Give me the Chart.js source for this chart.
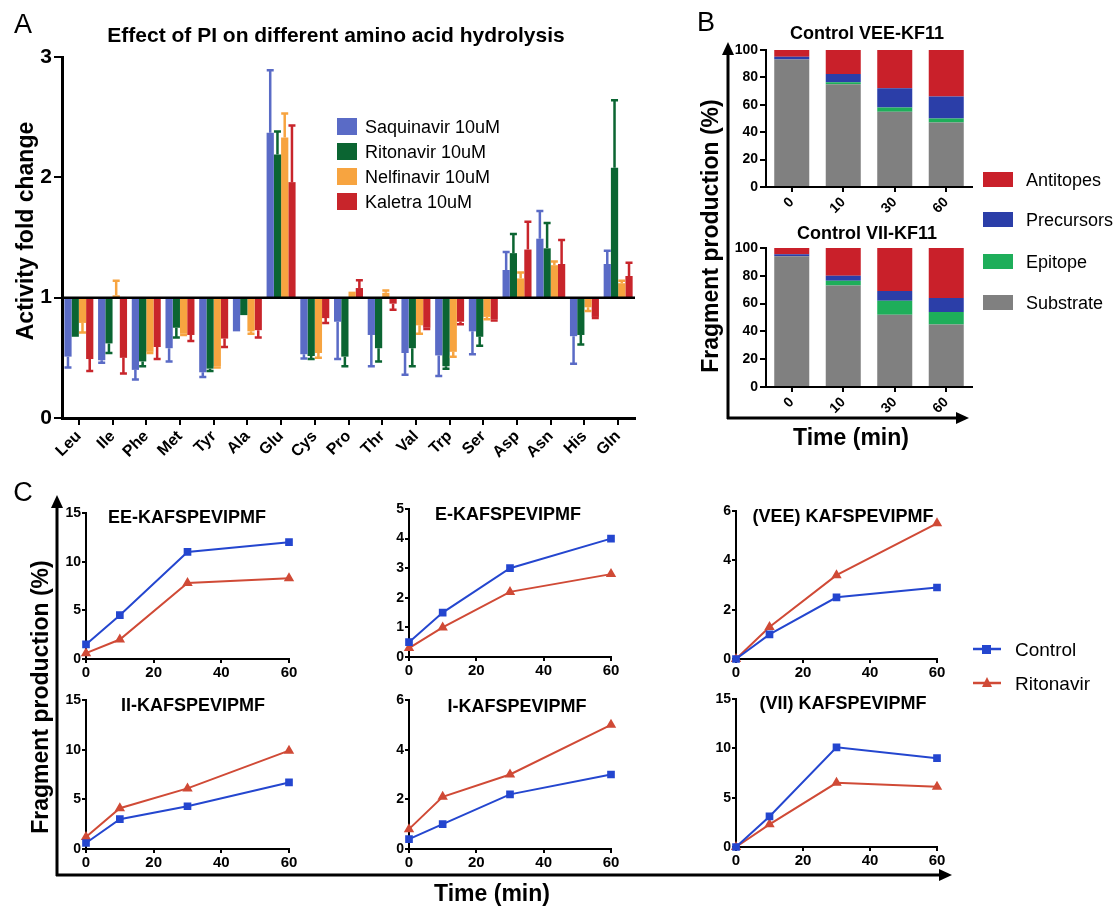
<!DOCTYPE html>
<html lang="en">
<head>
<meta charset="UTF-8" />
<title>Protease inhibitors and fragment production</title>
<script src="https://cdn.jsdelivr.net/npm/chart.js"></script>
<style>
  html, body { margin: 0; padding: 0; background: #fff; }
  body { width: 1117px; height: 906px; position: relative; overflow: hidden;
         font-family: Arial, "Liberation Sans", Helvetica, sans-serif; color: #000; }
  canvas { position: absolute; }
  .t { position: absolute; white-space: nowrap; line-height: 1; transform: translate(-50%, -50%); }
  .l { position: absolute; white-space: nowrap; line-height: 1; transform: translateY(-50%); }
  .b { font-weight: bold; }
  .v { transform: translate(-50%, -50%) rotate(-90deg); }
  .sw { position: absolute; }
</style>
</head>
<body>
<canvas id="deco" width="1117" height="906" style="left:0;top:0"></canvas>
<canvas id="chartA"></canvas>
<canvas id="chartB1"></canvas>
<canvas id="chartB2"></canvas>
<canvas id="c11"></canvas>
<canvas id="c12"></canvas>
<canvas id="c13"></canvas>
<canvas id="c21"></canvas>
<canvas id="c22"></canvas>
<canvas id="c23"></canvas>

<!-- panel letters -->
<div class="t" style="left:23px;top:24px;font-size:27px">A</div>
<div class="t" style="left:706px;top:22px;font-size:27px">B</div>
<div class="t" style="left:23px;top:492px;font-size:27px">C</div>

<!-- panel A texts -->
<div class="t b" style="left:336px;top:34px;font-size:21px">Effect of PI on different amino acid hydrolysis</div>
<div class="t b v" style="left:25px;top:231px;font-size:23px">Activity fold change</div>
<div class="sw" style="left:337px;top:118px;width:20px;height:17px;background:#5a6bc6"></div>
<div class="sw" style="left:337px;top:143px;width:20px;height:17px;background:#0b6532"></div>
<div class="sw" style="left:337px;top:168px;width:20px;height:17px;background:#f7a440"></div>
<div class="sw" style="left:337px;top:193px;width:20px;height:17px;background:#c8252b"></div>
<div class="l" style="left:365px;top:127px;font-size:18px">Saquinavir 10uM</div>
<div class="l" style="left:365px;top:152px;font-size:18px">Ritonavir 10uM</div>
<div class="l" style="left:365px;top:177px;font-size:18px">Nelfinavir 10uM</div>
<div class="l" style="left:365px;top:202px;font-size:18px">Kaletra 10uM</div>

<!-- panel B texts -->
<div class="t b" style="left:867px;top:33px;font-size:18px">Control VEE-KF11</div>
<div class="t b" style="left:867px;top:233px;font-size:18px">Control VII-KF11</div>
<div class="t b v" style="left:710px;top:236px;font-size:23px">Fragment production (%)</div>
<div class="t b" style="left:851px;top:437px;font-size:23px">Time (min)</div>
<div class="sw" style="left:983px;top:172px;width:30px;height:15px;background:#c9202a"></div>
<div class="sw" style="left:983px;top:212px;width:30px;height:15px;background:#2b3ea8"></div>
<div class="sw" style="left:983px;top:254px;width:30px;height:15px;background:#1eae5a"></div>
<div class="sw" style="left:983px;top:295px;width:30px;height:15px;background:#808080"></div>
<div class="l" style="left:1026px;top:180px;font-size:18px">Antitopes</div>
<div class="l" style="left:1026px;top:220px;font-size:18px">Precursors</div>
<div class="l" style="left:1026px;top:262px;font-size:18px">Epitope</div>
<div class="l" style="left:1026px;top:303px;font-size:18px">Substrate</div>

<!-- panel C texts -->
<div class="t b" style="left:187px;top:517px;font-size:18px">EE-KAFSPEVIPMF</div>
<div class="t b" style="left:508px;top:514px;font-size:18px">E-KAFSPEVIPMF</div>
<div class="t b" style="left:843px;top:516px;font-size:18px">(VEE) KAFSPEVIPMF</div>
<div class="t b" style="left:193px;top:705px;font-size:18px">II-KAFSPEVIPMF</div>
<div class="t b" style="left:517px;top:706px;font-size:18px">I-KAFSPEVIPMF</div>
<div class="t b" style="left:843px;top:703px;font-size:18px">(VII) KAFSPEVIPMF</div>
<div class="t b v" style="left:40px;top:697px;font-size:23px">Fragment production (%)</div>
<div class="t b" style="left:492px;top:893px;font-size:23px">Time (min)</div>
<div class="l" style="left:1015px;top:649px;font-size:19px">Control</div>
<div class="l" style="left:1015px;top:683px;font-size:19px">Ritonavir</div>

<script>
var FONT = 'Arial, "Liberation Sans", Helvetica, sans-serif';

// ---- panel A: fold change per amino acid ----
var aminoAcids = ["Leu", "Ile", "Phe", "Met", "Tyr", "Ala", "Glu", "Cys", "Pro",
                  "Thr", "Val", "Trp", "Ser", "Asp", "Asn", "His", "Gln"];
var saquinavir    = [0.51, 0.48, 0.40, 0.58, 0.38, 0.72, 2.37, 0.53, 0.80, 0.69, 0.54, 0.52, 0.72, 1.23, 1.49, 0.68, 1.28];
var saquinavirErr = [0.09, 0.02, 0.08, 0.11, 0.04, 0.00, 0.52, 0.035, 0.31, 0.26, 0.18, 0.17, 0.19, 0.15, 0.23, 0.23, 0.11];
var ritonavir     = [0.675, 0.62, 0.47, 0.75, 0.41, 0.855, 2.19, 0.515, 0.51, 0.58, 0.58, 0.43, 0.675, 1.37, 1.41, 0.69, 2.08];
var ritonavirErr  = [0.00, 0.08, 0.04, 0.08, 0.02, 0.00, 0.19, 0.025, 0.08, 0.11, 0.15, 0.02, 0.075, 0.16, 0.21, 0.08, 0.56];
var nelfinavir    = [0.79, 1.02, 0.55, 0.70, 0.43, 0.72, 2.33, 0.54, 1.05, 1.04, 0.77, 0.55, 0.84, 1.16, 1.27, 0.92, 1.12];
var nelfinavirErr = [0.08, 0.12, 0.01, 0.01, 0.01, 0.02, 0.20, 0.04, 0.00, 0.02, 0.07, 0.04, 0.02, 0.05, 0.03, 0.03, 0.02];
var kaletra       = [0.49, 0.50, 0.59, 0.69, 0.66, 0.73, 1.96, 0.83, 1.08, 0.95, 0.75, 0.80, 0.82, 1.40, 1.28, 0.84, 1.18];
var kaletraErr    = [0.10, 0.13, 0.10, 0.05, 0.07, 0.06, 0.47, 0.04, 0.065, 0.05, 0.01, 0.02, 0.01, 0.23, 0.20, 0.01, 0.11];
var foldTicks = [0, 1, 2, 3];

// ---- panel B: stacked fragment production ----
var timeLabels = ["0", "10", "30", "60"];
var veeSubstrate  = [93, 75, 55, 47];
var veeEpitope    = [0, 1.5, 3, 3];
var veePrecursors = [2, 6, 14, 16];
var veeAntitopes  = [5, 17.5, 28, 34];
var viiSubstrate  = [94, 73, 52, 45];
var viiEpitope    = [0, 3.5, 10, 9];
var viiPrecursors = [1.5, 3.5, 7, 10];
var viiAntitopes  = [4.5, 20, 31, 36];

// ---- panel C: time courses ----
var minutes = [0, 10, 30, 60];
var eeControl   = [1.5, 4.5, 11, 12];   var eeRitonavir  = [0.6, 2, 7.8, 8.3];
var eControl    = [0.5, 1.5, 3, 4];     var eRitonavir   = [0.3, 1, 2.2, 2.8];
var veeControl  = [0, 1, 2.5, 2.9];     var veeRitonavir = [0, 1.3, 3.4, 5.5];
var iiControl   = [0.6, 3, 4.3, 6.7];   var iiRitonavir  = [1.2, 4.1, 6.1, 9.9];
var iControl    = [0.4, 1, 2.2, 3];     var iRitonavir   = [0.8, 2.1, 3, 5];
var viiControl  = [0, 3.1, 10.1, 9];    var viiRitonavir = [0, 2.3, 6.5, 6.1];

// place a canvas so that its plot area lands on [left, top, right, bottom]
function place(id, area, m) {
  var el = document.getElementById(id);
  var w = area[2] - area[0] + m[1] + m[3];
  var h = area[3] - area[1] + m[0] + m[2];
  el.width = w; el.height = h;
  el.style.left = (area[0] - m[3]) + "px";
  el.style.top = (area[1] - m[0]) + "px";
  el.style.width = w + "px"; el.style.height = h + "px";
  return el;
}
function fitX(size) { return function (s) { s.height = size; s.paddingLeft = 0; s.paddingRight = 0; }; }
function fitY(size) { return function (s) { s.width = size; s.paddingTop = 0; s.paddingBottom = 0; }; }

function axisBase(fontSize, tickLen, bw) {
  return {
    border: { display: true, color: "#000", width: bw },
    grid: { display: true, drawOnChartArea: false, drawTicks: true, tickLength: tickLen, color: "#000", lineWidth: 2 },
    ticks: { color: "#000", font: { family: FONT, weight: "bold", size: fontSize }, padding: 2 }
  };
}

// error bars drawn away from the baseline of 1
var errorBars = {
  id: "errorBars",
  afterDatasetsDraw: function (chart) {
    var ctx = chart.ctx, y = chart.scales.y;
    chart.data.datasets.forEach(function (ds, i) {
      var meta = chart.getDatasetMeta(i);
      meta.data.forEach(function (bar, j) {
        var v = ds.data[j][1], e = ds.err[j];
        if (!e) return;
        var from = y.getPixelForValue(v);
        var tip = y.getPixelForValue(v > 1 ? v + e : v - e);
        ctx.save();
        ctx.strokeStyle = ds.backgroundColor;
        ctx.lineWidth = 2.5;
        ctx.beginPath();
        ctx.moveTo(bar.x, from); ctx.lineTo(bar.x, tip);
        ctx.moveTo(bar.x - 3.5, tip); ctx.lineTo(bar.x + 3.5, tip);
        ctx.stroke();
        ctx.restore();
      });
    });
  }
};
var baseline = {
  id: "baseline",
  afterDatasetsDraw: function (chart) {
    var ctx = chart.ctx, a = chart.chartArea, yy = chart.scales.y.getPixelForValue(1);
    ctx.save();
    ctx.strokeStyle = "#000"; ctx.lineWidth = 2.5;
    ctx.beginPath(); ctx.moveTo(a.left, yy); ctx.lineTo(a.right, yy); ctx.stroke();
    ctx.restore();
  }
};

function floating(vals) { return vals.map(function (v) { return [1, v]; }); }

var xA = axisBase(16, 7, 3);
xA.offset = true;
xA.grid.offset = false;
xA.ticks.minRotation = 45; xA.ticks.maxRotation = 45; xA.ticks.autoSkip = false;
xA.afterFit = fitX(55);
var yA = axisBase(21, 8, 3);
yA.min = 0; yA.max = 3;
yA.ticks.stepSize = 1;
yA.ticks.callback = function (v) { return foldTicks.indexOf(v) >= 0 ? String(v) : ""; };
yA.afterFit = fitY(45);

new Chart(place("chartA", [62, 57, 635, 418], [12, 20, 55, 45]), {
  type: "bar",
  data: {
    labels: aminoAcids,
    datasets: [
      { label: "Saquinavir 10uM", data: floating(saquinavir), err: saquinavirErr, backgroundColor: "#5a6bc6" },
      { label: "Ritonavir 10uM", data: floating(ritonavir), err: ritonavirErr, backgroundColor: "#0b6532" },
      { label: "Nelfinavir 10uM", data: floating(nelfinavir), err: nelfinavirErr, backgroundColor: "#f7a440" },
      { label: "Kaletra 10uM", data: floating(kaletra), err: kaletraErr, backgroundColor: "#c8252b" }
    ]
  },
  options: {
    responsive: false, animation: false, devicePixelRatio: 1,
    layout: { padding: { top: 12, right: 20, bottom: 0, left: 0 } },
    plugins: { legend: { display: false }, tooltip: { enabled: false } },
    datasets: { bar: { categoryPercentage: 0.86, barPercentage: 1, borderWidth: 0, borderSkipped: false } },
    scales: { x: xA, y: yA }
  },
  plugins: [errorBars, baseline]
});

function stackedChart(id, area, sub, epi, pre, anti) {
  var x = axisBase(14, 5, 2);
  x.stacked = true; x.offset = true; x.grid.offset = false;
  x.ticks.minRotation = 45; x.ticks.maxRotation = 45;
  x.afterFit = fitX(32);
  var y = axisBase(14, 6, 2);
  y.stacked = true; y.min = 0; y.max = 100; y.ticks.stepSize = 20;
  y.afterFit = fitY(38);
  return new Chart(place(id, area, [8, 12, 32, 38]), {
    type: "bar",
    data: {
      labels: timeLabels,
      datasets: [
        { label: "Substrate", data: sub, backgroundColor: "#808080" },
        { label: "Epitope", data: epi, backgroundColor: "#1eae5a" },
        { label: "Precursors", data: pre, backgroundColor: "#2b3ea8" },
        { label: "Antitopes", data: anti, backgroundColor: "#c9202a" }
      ]
    },
    options: {
      responsive: false, animation: false, devicePixelRatio: 1,
      layout: { padding: { top: 8, right: 12, bottom: 0, left: 0 } },
      plugins: { legend: { display: false }, tooltip: { enabled: false } },
      datasets: { bar: { categoryPercentage: 0.68, barPercentage: 1, borderWidth: 0 } },
      scales: { x: x, y: y }
    }
  });
}
stackedChart("chartB1", [766, 50, 972, 187], veeSubstrate, veeEpitope, veePrecursors, veeAntitopes);
stackedChart("chartB2", [766, 248, 972, 387], viiSubstrate, viiEpitope, viiPrecursors, viiAntitopes);

function pts(vals) { return minutes.map(function (m, i) { return { x: m, y: vals[i] }; }); }

function timeChart(id, area, control, rito, max, step) {
  var x = axisBase(15, 4, 2);
  x.type = "linear"; x.min = 0; x.max = 60; x.ticks.stepSize = 20; x.ticks.padding = 1;
  x.afterFit = fitX(24);
  var y = axisBase(14, 4, 2);
  y.min = 0; y.max = max; y.ticks.stepSize = step; y.ticks.padding = 1;
  y.afterFit = fitY(28);
  return new Chart(place(id, area, [8, 12, 24, 28]), {
    type: "line",
    data: {
      datasets: [
        { label: "Control", data: pts(control), borderColor: "#2446cf", backgroundColor: "#2446cf",
          borderWidth: 2, pointStyle: "rect", pointRadius: 4, clip: false },
        { label: "Ritonavir", data: pts(rito), borderColor: "#d04a36", backgroundColor: "#d04a36",
          borderWidth: 2, pointStyle: "triangle", pointRadius: 4, clip: false }
      ]
    },
    options: {
      responsive: false, animation: false, devicePixelRatio: 1,
      layout: { padding: { top: 8, right: 12, bottom: 0, left: 0 } },
      plugins: { legend: { display: false }, tooltip: { enabled: false } },
      scales: { x: x, y: y }
    }
  });
}
timeChart("c11", [86, 513, 289, 659], eeControl, eeRitonavir, 15, 5);
timeChart("c12", [409, 509, 611, 657], eControl, eRitonavir, 5, 1);
timeChart("c13", [736, 511, 937, 659], veeControl, veeRitonavir, 6, 2);
timeChart("c21", [86, 700, 289, 849], iiControl, iiRitonavir, 15, 5);
timeChart("c22", [409, 700, 611, 849], iControl, iRitonavir, 6, 2);
timeChart("c23", [736, 699, 937, 847], viiControl, viiRitonavir, 15, 5);

// shared axis arrows and the panel C legend keys
(function () {
  var ctx = document.getElementById("deco").getContext("2d");
  ctx.strokeStyle = "#000"; ctx.fillStyle = "#000"; ctx.lineWidth = 3;
  function line(x1, y1, x2, y2) { ctx.beginPath(); ctx.moveTo(x1, y1); ctx.lineTo(x2, y2); ctx.stroke(); }
  function head(x, y, dir) {
    ctx.beginPath();
    if (dir === "up") { ctx.moveTo(x, y); ctx.lineTo(x - 6, y + 13); ctx.lineTo(x + 6, y + 13); }
    else { ctx.moveTo(x, y); ctx.lineTo(x - 13, y - 6); ctx.lineTo(x - 13, y + 6); }
    ctx.closePath(); ctx.fill();
  }
  line(728, 419, 728, 52); head(728, 42, "up");
  line(727, 418, 958, 418); head(969, 418, "right");
  line(57, 876, 57, 505); head(57, 495, "up");
  line(56, 875, 940, 875); head(952, 875, "right");

  ctx.lineWidth = 2.5;
  ctx.strokeStyle = "#2446cf"; ctx.fillStyle = "#2446cf";
  line(973, 649, 1001, 649); ctx.fillRect(982, 645, 9, 9);
  ctx.strokeStyle = "#d04a36"; ctx.fillStyle = "#d04a36";
  line(973, 683, 1001, 683);
  ctx.beginPath(); ctx.moveTo(987, 677); ctx.lineTo(982, 687); ctx.lineTo(992, 687); ctx.closePath(); ctx.fill();
})();
</script>
</body>
</html>
